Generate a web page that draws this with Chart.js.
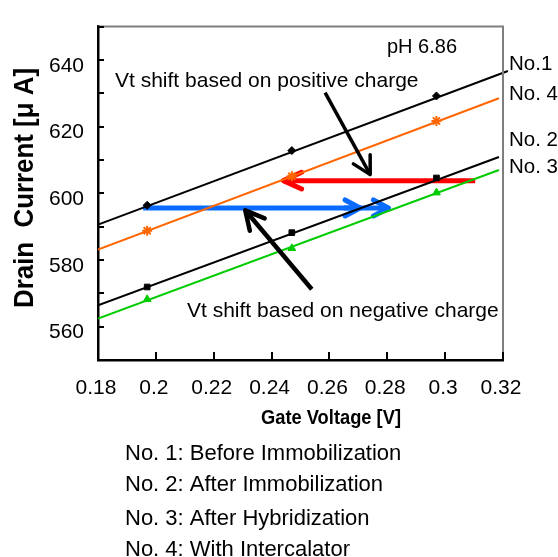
<!DOCTYPE html>
<html>
<head>
<meta charset="utf-8">
<script src="https://cdn.jsdelivr.net/npm/chart.js@4.4.0/dist/chart.umd.min.js"></script>
<style>
  html, body { margin: 0; padding: 0; background: #fff; }
  canvas { display: block; }
</style>
</head>
<body>
<canvas id="chart" width="558" height="557"></canvas>
<script>
// gate voltage of the measured points [V]
const gateVoltage = [0.197, 0.247, 0.297];
// drain current [uA] per measurement
const no1Current = [596.4, 612.8, 629.2];
const no2Current = [571.9, 588.2, 604.6];
const no3Current = [568.2, 583.5, 600.2];
const no4Current = [588.8, 605.1, 621.7];
// trend lines, read at both ends
const trendX = [0.18, 0.3186];
const no1TrendX = [0.18, 0.3217];
const no1Trend = [590.6, 636.7];
const no2Trend = [566.4, 610.9];
const no3Trend = [562.4, 607.0];
const no4Trend = [583.1, 628.5];
// ticks
const xTicks = [0.18, 0.2, 0.22, 0.24, 0.26, 0.28, 0.3, 0.32];
const xTickLabels = ["0.18", "0.2", "0.22", "0.24", "0.26", "0.28", "0.3", "0.32"];
const yTicks = [550, 560, 570, 580, 590, 600, 610, 620, 630, 640, 650];
const yTickLabels = [560, 580, 600, 620, 640];

const seriesNames = ["No.1", "No. 4", "No. 2", "No. 3"];
const legendLines = [
  "No. 1: Before Immobilization",
  "No. 2: After Immobilization",
  "No. 3: After Hybridization",
  "No. 4: With Intercalator"
];

const FONT = '"Liberation Sans", Arial, sans-serif';
const ORANGE = "#ff6600";
const GREEN = "#00cc00";

function pts(xs, ys) {
  return xs.map((x, i) => ({ x: x, y: ys[i] }));
}

// arrows in data units
const backArrows = [
  { from: [0.3104, 603.8], to: [0.2441, 603.8], color: "#ff0000", width: 5, head: 20, spread: 0.43 },
  { from: [0.1956, 595.6], to: [0.2804, 595.6], color: "#0a6cff", width: 5, head: 17, spread: 0.49 },
  { from: [0.2650, 595.6], to: [0.2706, 595.6], color: "#0a6cff", width: 5, head: 17, spread: 0.49 }
];
const frontArrows = [
  { from: [0.2585, 630.2], to: [0.2741, 605.6], color: "#000", width: 3.5, head: 20, spread: 0.5 },
  { from: [0.2539, 571.2], to: [0.2309, 594.9], color: "#000", width: 4.5, head: 21, spread: 0.48 }
];

function drawArrow(ctx, x1, y1, x2, y2, a) {
  ctx.save();
  ctx.strokeStyle = a.color;
  ctx.lineWidth = a.width;
  ctx.beginPath();
  ctx.moveTo(x1, y1);
  ctx.lineTo(x2, y2);
  ctx.stroke();
  const ang = Math.atan2(y1 - y2, x1 - x2);
  ctx.lineCap = "round";
  ctx.lineJoin = "round";
  ctx.beginPath();
  ctx.moveTo(x2 + a.head * Math.cos(ang + a.spread), y2 + a.head * Math.sin(ang + a.spread));
  ctx.lineTo(x2, y2);
  ctx.lineTo(x2 + a.head * Math.cos(ang - a.spread), y2 + a.head * Math.sin(ang - a.spread));
  ctx.stroke();
  ctx.restore();
}

function drawArrows(chart, list) {
  const xs = chart.scales.x, ys = chart.scales.y;
  list.forEach((a) => {
    drawArrow(chart.ctx,
      xs.getPixelForValue(a.from[0]), ys.getPixelForValue(a.from[1]),
      xs.getPixelForValue(a.to[0]), ys.getPixelForValue(a.to[1]), a);
  });
}

// text squeezed to a given width
function fitText(ctx, text, x, y, width, rot) {
  const w = ctx.measureText(text).width;
  ctx.save();
  ctx.translate(x, y);
  if (rot) ctx.rotate(rot);
  ctx.scale(width / w, 1);
  ctx.textAlign = "center";
  ctx.fillText(text, 0, 0);
  ctx.restore();
}

const decorPlugin = {
  id: "decor",
  beforeDatasetsDraw(chart) {
    drawArrows(chart, backArrows);
  },
  afterDatasetsDraw(chart) {
    drawArrows(chart, frontArrows);
  },
  afterDraw(chart) {
    const ctx = chart.ctx;
    const area = chart.chartArea;
    const xs = chart.scales.x, ys = chart.scales.y;
    ctx.save();

    // grey top / right frame
    ctx.strokeStyle = "#7f7f7f";
    ctx.lineWidth = 2;
    ctx.beginPath();
    ctx.moveTo(area.left, area.top);
    ctx.lineTo(area.right, area.top);
    ctx.lineTo(area.right, area.bottom);
    ctx.stroke();

    // inner tick marks
    ctx.strokeStyle = "#000";
    ctx.lineWidth = 2;
    ctx.beginPath();
    ys.ticks.forEach((t) => {
      const y = Math.round(ys.getPixelForValue(t.value));
      ctx.moveTo(area.left, y);
      ctx.lineTo(area.left + 6, y);
    });
    xs.ticks.forEach((t) => {
      const x = Math.round(xs.getPixelForValue(t.value));
      ctx.moveTo(x, area.bottom);
      ctx.lineTo(x, area.bottom - 8);
    });
    ctx.stroke();

    ctx.fillStyle = "#000";
    ctx.textAlign = "left";
    ctx.textBaseline = "alphabetic";

    // texts in plot
    ctx.font = "20px " + FONT;
    ctx.fillText("pH 6.86", 387, 53);
    ctx.font = "21px " + FONT;
    ctx.fillText("Vt shift based on positive charge", 115, 87);
    ctx.fillText("Vt shift based on negative charge", 187, 317);

    // series names at right
    ctx.font = "20.5px " + FONT;
    const nameY = [70, 100, 146, 173];
    seriesNames.forEach((n, i) => ctx.fillText(n, 509, nameY[i]));

    // axis titles, condensed bold
    ctx.font = "bold 28px " + FONT;
    fitText(ctx, "Drain  Current [\u03bc A]", 33, 188, 240, -Math.PI / 2);
    ctx.font = "bold 21px " + FONT;
    fitText(ctx, "Gate Voltage [V]", 331, 424, 140, 0);

    // legend text
    ctx.font = "22px " + FONT;
    ctx.textAlign = "left";
    const legY = [460, 491, 525, 556];
    legendLines.forEach((l, i) => ctx.fillText(l, 125, legY[i]));

    ctx.restore();
  }
};

Chart.defaults.font.family = FONT;
Chart.defaults.color = "#000";

new Chart(document.getElementById("chart"), {
  type: "scatter",
  data: {
    datasets: [
      { data: pts(no1TrendX, no1Trend), showLine: true, pointRadius: 0, borderColor: "#000", borderWidth: 2, clip: false },
      { data: pts(trendX, no4Trend), showLine: true, pointRadius: 0, borderColor: ORANGE, borderWidth: 2 },
      { data: pts(trendX, no2Trend), showLine: true, pointRadius: 0, borderColor: "#000", borderWidth: 2 },
      { data: pts(trendX, no3Trend), showLine: true, pointRadius: 0, borderColor: GREEN, borderWidth: 2 },
      { data: pts(gateVoltage, no1Current), pointStyle: "rectRot", pointRadius: 4, backgroundColor: "#000", borderColor: "#000" },
      { data: pts(gateVoltage, no4Current), pointStyle: "star", pointRadius: 5, backgroundColor: ORANGE, borderColor: ORANGE, borderWidth: 2 },
      { data: pts(gateVoltage, no2Current), pointStyle: "rect", pointRadius: 4, backgroundColor: "#000", borderColor: "#000" },
      { data: pts(gateVoltage, no3Current), pointStyle: "triangle", pointRadius: 4.5, backgroundColor: GREEN, borderColor: GREEN }
    ]
  },
  options: {
    responsive: false,
    animation: false,
    events: [],
    layout: { padding: { top: 15, right: 55, left: 0, bottom: 0 } },
    plugins: { legend: { display: false }, tooltip: { enabled: false } },
    scales: {
      x: {
        type: "linear",
        min: 0.18,
        max: 0.32,
        afterBuildTicks: (axis) => { axis.ticks = xTicks.map((v) => ({ value: v })); },
        afterFit: (axis) => { axis.height = 197; },
        grid: { drawOnChartArea: false, drawTicks: false },
        border: { color: "#000", width: 2.5 },
        ticks: {
          padding: 16,
          labelOffset: -2,
          maxRotation: 0,
          autoSkip: false,
          font: { size: 21 },
          callback: (v, i) => xTickLabels[i]
        }
      },
      y: {
        type: "linear",
        min: 550,
        max: 650,
        afterBuildTicks: (axis) => { axis.ticks = yTicks.map((v) => ({ value: v })); },
        afterFit: (axis) => { axis.width = 98; },
        grid: { drawOnChartArea: false, drawTicks: false },
        border: { color: "#000", width: 2.5 },
        ticks: {
          padding: 14,
          labelOffset: 6,
          autoSkip: false,
          font: { size: 21 },
          callback: (v) => (yTickLabels.includes(v) ? String(v) : "")
        }
      }
    }
  },
  plugins: [decorPlugin]
});
</script>
</body>
</html>
